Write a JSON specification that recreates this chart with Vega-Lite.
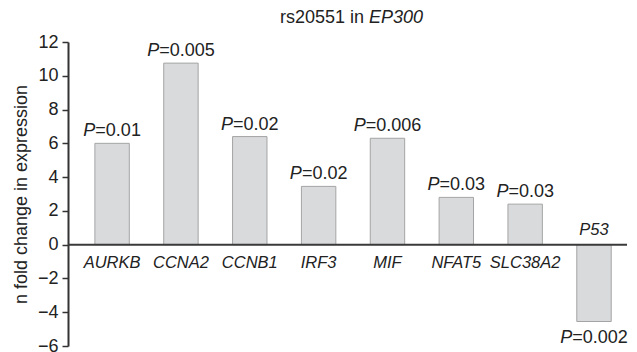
{
  "$schema": "https://vega.github.io/schema/vega-lite/v6.json",
  "width": 559,
  "height": 304,
  "autosize": {"type": "none"},
  "padding": {"left": 68, "top": 42, "right": 10, "bottom": 6},
  "background": "white",
  "config": {"view": {"stroke": null}, "font": "Liberation Sans"},
  "title": {
    "text": "rs20551 in",
    "subtitle": "EP300",
    "anchor": "start",
    "align": "left",
    "frame": "group",
    "dx": 212,
    "offset": 6,
    "font": "Liberation Sans",
    "fontSize": 18,
    "fontWeight": "normal",
    "color": "#222222",
    "subtitleFont": "Liberation Sans",
    "subtitleFontSize": 18,
    "subtitleFontStyle": "italic",
    "subtitleColor": "#222222",
    "subtitlePadding": -18,
    "encode": {"subtitle": {"update": {"dx": {"value": 301}}}}
  },
  "data": {
    "values": [
      {"gene": "AURKB", "fold": 6.0, "p": "=0.01"},
      {"gene": "CCNA2", "fold": 10.75, "p": "=0.005"},
      {"gene": "CCNB1", "fold": 6.4, "p": "=0.02"},
      {"gene": "IRF3", "fold": 3.45, "p": "=0.02"},
      {"gene": "MIF", "fold": 6.3, "p": "=0.006"},
      {"gene": "NFAT5", "fold": 2.8, "p": "=0.03"},
      {"gene": "SLC38A2", "fold": 2.4, "p": "=0.03"},
      {"gene": "P53", "fold": -4.55, "p": "=0.002"}
    ]
  },
  "layer": [
    {
      "mark": {"type": "bar", "fill": "#d9dadc", "stroke": "#a4a4a4", "strokeWidth": 1},
      "encoding": {
        "x": {"field": "gene", "type": "nominal", "sort": null, "scale": {"paddingInner": 0.5, "paddingOuter": 0.31, "align": 0.63}, "axis": null},
        "y": {
          "field": "fold",
          "type": "quantitative",
          "scale": {"domain": [-6, 12], "nice": false},
          "axis": {
            "values": [-6, -4, -2, 0, 2, 4, 6, 8, 10, 12],
            "tickCount": 20,
            "title": "n fold change in expression",
            "titleFont": "Liberation Sans",
            "titleFontSize": 18,
            "titleFontWeight": "normal",
            "titleColor": "#222222",
            "titlePadding": 7,
            "labelFont": "Liberation Sans",
            "labelFontSize": 18,
            "labelColor": "#222222",
            "labelPadding": 4,
            "labelOverlap": false,
            "labelFlush": false,
            "labelBound": false,
            "tickSize": 6,
            "tickColor": "#333333",
            "tickWidth": 1.5,
            "domainColor": "#333333",
            "domainWidth": 2,
            "grid": false
          }
        }
      }
    },
    {
      "data": {"values": [{"v": 0}]},
      "mark": {"type": "rule", "color": "#3a3a3a", "strokeWidth": 2},
      "encoding": {"y": {"field": "v", "type": "quantitative"}}
    },
    {
      "transform": [{"filter": "datum.fold > 0"}],
      "mark": {"type": "text", "font": "Liberation Sans", "fontSize": 16.5, "fontStyle": "italic", "color": "#222222", "baseline": "alphabetic", "dy": 23},
      "encoding": {
        "x": {"field": "gene", "type": "nominal", "sort": null},
        "y": {"datum": 0},
        "text": {"field": "gene"}
      }
    },
    {
      "transform": [{"filter": "datum.fold < 0"}],
      "mark": {"type": "text", "font": "Liberation Sans", "fontSize": 16.5, "fontStyle": "italic", "color": "#222222", "baseline": "alphabetic", "dy": -9.5},
      "encoding": {
        "x": {"field": "gene", "type": "nominal", "sort": null},
        "y": {"datum": 0},
        "text": {"field": "gene"}
      }
    },
    {
      "transform": [{"filter": "datum.fold > 0 && length(datum.p) == 5"}],
      "mark": {"type": "text", "font": "Liberation Sans", "fontSize": 18, "fontStyle": "italic", "color": "#222222", "baseline": "alphabetic", "align": "right", "dx": -16.75, "dy": -7, "text": "P"},
      "encoding": {
        "x": {"field": "gene", "type": "nominal", "sort": null},
        "y": {"field": "fold", "type": "quantitative"}
      }
    },
    {
      "transform": [{"filter": "datum.fold > 0 && length(datum.p) == 5"}],
      "mark": {"type": "text", "font": "Liberation Sans", "fontSize": 18, "color": "#222222", "baseline": "alphabetic", "align": "left", "dx": -16.75, "dy": -7},
      "encoding": {
        "x": {"field": "gene", "type": "nominal", "sort": null},
        "y": {"field": "fold", "type": "quantitative"},
        "text": {"field": "p"}
      }
    },
    {
      "transform": [{"filter": "datum.fold > 0 && length(datum.p) == 6"}],
      "mark": {"type": "text", "font": "Liberation Sans", "fontSize": 18, "fontStyle": "italic", "color": "#222222", "baseline": "alphabetic", "align": "right", "dx": -21.75, "dy": -7, "text": "P"},
      "encoding": {
        "x": {"field": "gene", "type": "nominal", "sort": null},
        "y": {"field": "fold", "type": "quantitative"}
      }
    },
    {
      "transform": [{"filter": "datum.fold > 0 && length(datum.p) == 6"}],
      "mark": {"type": "text", "font": "Liberation Sans", "fontSize": 18, "color": "#222222", "baseline": "alphabetic", "align": "left", "dx": -21.75, "dy": -7},
      "encoding": {
        "x": {"field": "gene", "type": "nominal", "sort": null},
        "y": {"field": "fold", "type": "quantitative"},
        "text": {"field": "p"}
      }
    },
    {
      "transform": [{"filter": "datum.fold < 0"}],
      "mark": {"type": "text", "font": "Liberation Sans", "fontSize": 18, "fontStyle": "italic", "color": "#222222", "baseline": "alphabetic", "align": "right", "dx": -21.75, "dy": 21, "text": "P"},
      "encoding": {
        "x": {"field": "gene", "type": "nominal", "sort": null},
        "y": {"field": "fold", "type": "quantitative"}
      }
    },
    {
      "transform": [{"filter": "datum.fold < 0"}],
      "mark": {"type": "text", "font": "Liberation Sans", "fontSize": 18, "color": "#222222", "baseline": "alphabetic", "align": "left", "dx": -21.75, "dy": 21},
      "encoding": {
        "x": {"field": "gene", "type": "nominal", "sort": null},
        "y": {"field": "fold", "type": "quantitative"},
        "text": {"field": "p"}
      }
    }
  ]
}
